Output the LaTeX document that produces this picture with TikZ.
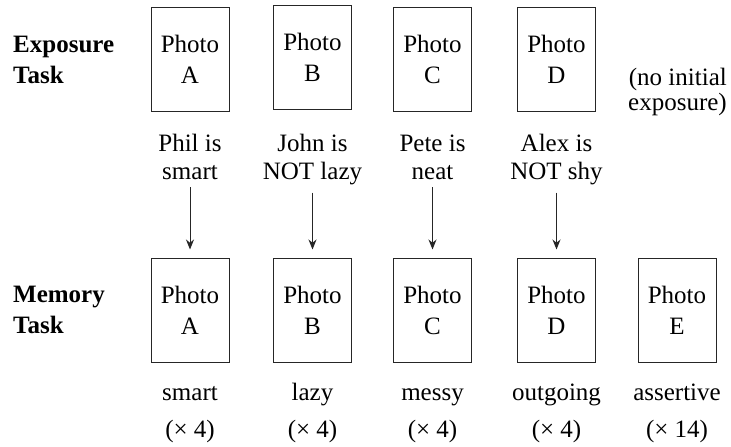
\documentclass[tikz,border=0pt]{standalone}
\usepackage{fontspec}
\setmainfont{Liberation Serif}
\usetikzlibrary{arrows.meta}
\begin{document}
\begin{tikzpicture}[x=1pt,y=-1pt,
  photobox/.style={draw=black!85,line width=1pt,minimum width=78pt,minimum height=104pt,inner sep=0pt,align=center,font=\fontsize{25}{31}\selectfont},
  rowlabel/.style={anchor=base west,align=left,inner sep=0pt,font=\fontsize{25}{31}\selectfont\bfseries},
  toplabel/.style={anchor=base,align=center,inner sep=0pt,font=\fontsize{25}{28}\selectfont},
  botlabel/.style={anchor=base,align=center,inner sep=0pt,font=\fontsize{25}{37}\selectfont},
  arr/.style={draw=black!85,line width=1pt,-{Stealth[length=10pt,width=8pt]},shorten <=8pt,shorten >=8pt}]
\useasboundingbox (0,0) rectangle (731,447);
% row labels
\node[rowlabel] (exp) at (13,83) {Exposure\\Task};
\node[rowlabel] (mem) at (13,333) {Memory\\Task};
% exposure photos
\node[photobox] (tA) at (190,59) {Photo\\A};
\node[photobox] (tB) at (312.5,57) {Photo\\B};
\node[photobox] (tC) at (432.5,59.5) {Photo\\C};
\node[photobox] (tD) at (556.5,59.5) {Photo\\D};
\node[anchor=base east,align=right,inner sep=0pt,font=\fontsize{25}{25}\selectfont] (noexp) at (727,110) {(no initial\\exposure)};
% exposure statements
\node[toplabel] (lA) at (190,179) {Phil is\\smart};
\node[toplabel] (lB) at (312.5,179) {John is\\NOT lazy};
\node[toplabel] (lC) at (432.5,179) {Pete is\\neat};
\node[toplabel] (lD) at (556.5,179) {Alex is\\NOT shy};
% memory photos
\node[photobox] (mA) at (190,310) {Photo\\A};
\node[photobox] (mB) at (312.5,310) {Photo\\B};
\node[photobox] (mC) at (432.5,310) {Photo\\C};
\node[photobox] (mD) at (556.5,310) {Photo\\D};
\node[photobox] (mE) at (677,310) {Photo\\E};
% memory traits
\node[botlabel] (bA) at (190,437) {smart\\(× 4)};
\node[botlabel] (bB) at (312.5,437) {lazy\\(× 4)};
\node[botlabel] (bC) at (432.5,437) {messy\\(× 4)};
\node[botlabel] (bD) at (556.5,437) {outgoing\\(× 4)};
\node[botlabel] (bE) at (677,437) {assertive\\(× 14)};
% arrows
\draw[arr] (lA.south) -- (mA.north);
\draw[arr] (lB.south) -- (mB.north);
\draw[arr] (lC.south) -- (mC.north);
\draw[arr] (lD.south) -- (mD.north);
\end{tikzpicture}
\end{document}
